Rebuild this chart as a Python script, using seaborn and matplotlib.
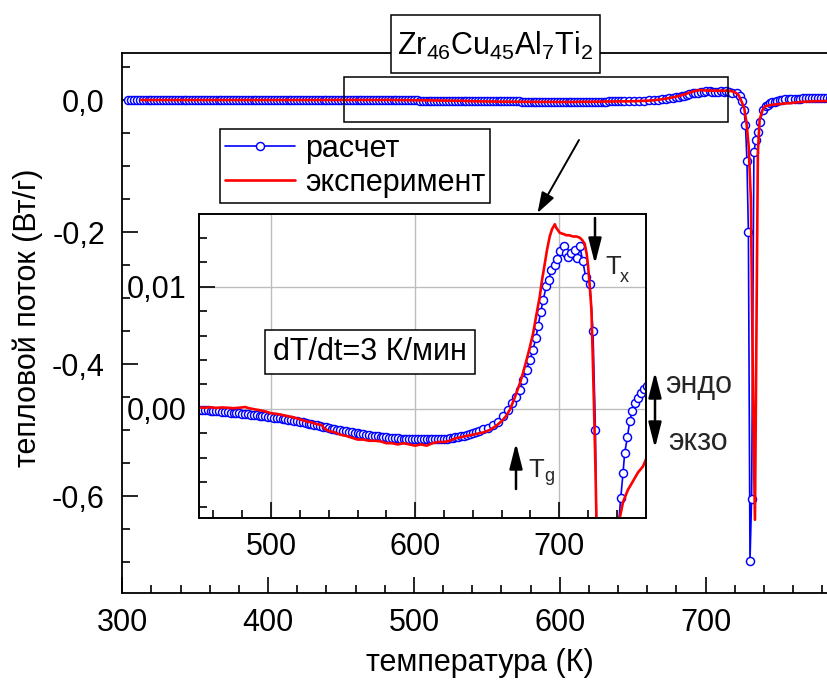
import numpy as np
import matplotlib
matplotlib.use("Agg")
import matplotlib.pyplot as plt
import matplotlib.patches as mpatches
import seaborn as sns
from matplotlib.ticker import FixedLocator, MultipleLocator

# ---------------------------------------------------------------- data
# calculated DSC curve (расчет): temperature, K and heat flow, W/g
calc_T_low = np.arange(304, 646, 2)
calc_flow_low = [
    0.0, 0.0, 0.0, 0.0, 0.0, 0.0, 0.0, 0.0, 0.0, 0.0,
    0.0, 0.0, 0.0, 0.0, 0.0, 0.0, 0.0, 0.0, 0.0, 0.0,
    0.0, 0.0, 0.0, 0.0, 0.0, 0.0, 0.0, 0.0, 0.0, 0.0,
    0.0, 0.0, 0.0, 0.0, 0.0, 0.0, 0.0, 0.0, 0.0, 0.0,
    0.0, 0.0, 0.0, 0.0, 0.0, 0.0, 0.0, 0.0, 0.0, 0.0,
    0.0, 0.0, 0.0, 0.0, 0.0, 0.0, 0.0, 0.0, 0.0, 0.0,
    0.0, 0.0, 0.0, 0.0, 0.0, 0.0, 0.0, 0.0, 0.0, 0.0,
    0.0, 0.0, 0.0,
    -0.0001, -0.0001, -0.0001, -0.00012, -0.00014, -0.00016, -0.00018, -0.0002, -0.00022, -0.00024,
    -0.00027, -0.0003, -0.00032, -0.00035, -0.00037, -0.0004, -0.00042, -0.00045, -0.00047, -0.0005,
    -0.00052, -0.00055, -0.00057, -0.0006, -0.00062, -0.00065, -0.0007, -0.00073, -0.00077, -0.0008,
    -0.00085, -0.0009, -0.00093, -0.00097, -0.001, -0.00105, -0.0011, -0.00115, -0.0012, -0.00125,
    -0.0013, -0.00135, -0.0014, -0.00145, -0.0015, -0.00155, -0.0016, -0.00165, -0.0017, -0.00173,
    -0.00178, -0.00182, -0.00187, -0.00192, -0.00197, -0.002, -0.00204, -0.00208, -0.00212, -0.00216,
    -0.0022, -0.00222, -0.00225, -0.00228, -0.0023, -0.00232, -0.00234, -0.00236, -0.00238, -0.0024,
    -0.00242, -0.00244, -0.00245, -0.00246, -0.00247, -0.00248, -0.00248, -0.00248, -0.00248, -0.00248,
    -0.00248, -0.00248, -0.00248, -0.00247, -0.00246, -0.00244, -0.00242, -0.0024, -0.00236, -0.00232,
    -0.00228, -0.00224, -0.00218, -0.00212, -0.00206, -0.002, -0.00192, -0.00184,
]
calc_T_peak = [
    647.2, 650.6, 654.0, 657.6, 661.0, 664.5, 667.5, 670.3, 672.6, 674.9,
    677.3, 679.5, 681.8, 683.7, 685.3, 687.2, 688.8, 691.1, 692.7, 694.6,
    696.9, 698.7, 700.3, 703.1, 704.5, 706.1, 708.5, 710.7, 712.6, 714.2,
    716.3, 718.4, 721.2, 723.4, 725.1, 726.3, 727.3, 728.3, 729.3, 730.4,
    731.5, 733.1, 734.5, 735.7, 737.2, 739.5, 741.1, 742.7, 744.3, 745.4,
    747.3, 748.9, 750.8, 752.6, 754.6, 756.9, 758.8,
]
calc_flow_peak = [
    -0.00166, -0.00153, -0.00131, -0.00104, -0.00057, -0.00008, 0.00047, 0.0010, 0.00155, 0.00237,
    0.00319, 0.0040, 0.00482, 0.00578, 0.00679, 0.00796, 0.00891, 0.01006, 0.01055, 0.01137,
    0.01177, 0.01224, 0.01294, 0.01333, 0.01278, 0.01245, 0.01273, 0.0130, 0.01232, 0.01335,
    0.0121, 0.01077, 0.01022, 0.0064, -0.0017, -0.015, -0.038, -0.092, -0.20, -0.698,
    -0.605, -0.078, -0.060, -0.049, -0.033, -0.015, -0.0095, -0.00725, -0.0052, -0.0036,
    -0.0023, -0.0010, -0.00014, 0.00046, 0.00087, 0.00128, 0.0016,
]
calc_T_high = np.arange(761, 801, 2)
calc_flow_high = [
    0.0019, 0.0021, 0.0023, 0.0025, 0.0026, 0.0027, 0.0028, 0.0029, 0.003, 0.003,
    0.003, 0.003, 0.003, 0.003, 0.003, 0.003, 0.003, 0.003, 0.003, 0.003,
]

# measured DSC curve (эксперимент)
exp_T = [
    313, 330, 350, 370, 390, 410, 430, 446,
    450, 454, 458, 462, 466, 470, 474, 478, 482, 484, 488, 492, 496,
    500, 504, 508, 512, 516, 520, 524, 528, 532, 535, 537, 540, 544, 548,
    552, 556, 560, 564, 568, 572, 576, 580, 584, 588, 592, 596, 600, 604,
    608, 612, 616, 620, 624, 628, 632, 636, 640, 644, 648, 652, 656, 660,
    663, 666, 669, 672.7, 675, 677.3, 679.5, 681.9, 684, 686.5, 688, 690,
    691.5, 693.4, 695, 696.9, 698, 700.4, 703, 705, 707, 709.6, 712, 714.3,
    716, 717.7, 719, 720, 721.2, 722.3, 723.2, 724, 725.1, 725.8, 726.5,
    728, 729.5, 731, 732.5, 733.8, 735, 735.8, 737, 739, 740.6, 742.2,
    744.3, 747.7, 751.2, 754.6, 758.1, 762, 766, 770, 775, 780, 790, 800,
]
exp_flow = [
    0.0, 0.0, 0.0, 0.0, 0.0, 0.0, 0.0, 0.0001,
    0.00012, 0.0001, 0.00014, 0.00008, 0.00012, 0.0001, 0.00006, 0.0001, 0.00016, 0.00008, -0.00002, -0.0001, -0.0002,
    -0.00035, -0.0004, -0.0005, -0.0006, -0.0007, -0.00085, -0.001, -0.0011, -0.00125, -0.0013, -0.0016, -0.0018, -0.0019, -0.0021,
    -0.0022, -0.00235, -0.0025, -0.0025, -0.0026, -0.0026, -0.00265, -0.0028, -0.0028, -0.0029, -0.0028, -0.0029, -0.003, -0.0029,
    -0.003, -0.0028, -0.0027, -0.0027, -0.0026, -0.0024, -0.0023, -0.0022, -0.0021, -0.002, -0.0019, -0.0017, -0.0014, -0.001,
    -0.0006, 0.0, 0.0009, 0.0021, 0.003, 0.004, 0.005, 0.0062, 0.0076, 0.0092, 0.0105, 0.0119,
    0.013, 0.0141, 0.0147, 0.0151, 0.0148, 0.0144, 0.0143, 0.0142, 0.0142, 0.0141, 0.0141, 0.0140,
    0.0138, 0.0135, 0.0127, 0.0117, 0.0100, 0.0082, 0.0045, 0.0008, -0.0047, -0.0089, -0.013,
    -0.035, -0.07, -0.15, -0.45, -0.636, -0.30, -0.08, -0.03, -0.015, -0.0098, -0.0088,
    -0.0076, -0.0066, -0.0059, -0.0052, -0.0047, -0.0036, -0.0028, -0.0022, -0.0018, -0.0016, -0.0015, -0.0015,
]

calc_T = np.concatenate([calc_T_low, calc_T_peak, calc_T_high])
calc_flow = np.concatenate([calc_flow_low, calc_flow_peak, calc_flow_high])

series_labels = ["расчет", "эксперимент"]
main_xticks = [300, 400, 500, 600, 700]
main_xticklabels = ["300", "400", "500", "600", "700"]
main_yticks = [0.0, -0.2, -0.4, -0.6]
main_yticklabels = ["0,0", "-0,2", "-0,4", "-0,6"]
inset_xticks = [500, 600, 700]
inset_xticklabels = ["500", "600", "700"]
inset_yticks = [0.0, 0.01]
inset_yticklabels = ["0,00", "0,01"]

# ---------------------------------------------------------------- style
sns.set_theme(style="white")
plt.rcParams["font.family"] = ["Liberation Sans", "DejaVu Sans"]
plt.rcParams["mathtext.fontset"] = "custom"
plt.rcParams["mathtext.rm"] = "Liberation Sans"
plt.rcParams["mathtext.it"] = "Liberation Sans:italic"
plt.rcParams["mathtext.default"] = "regular"

W, H = 827, 682
FS = 22


def fx(x):
    return x / W


def fy(y):
    return 1 - y / H


fig = plt.figure(figsize=(W / 100, H / 100), dpi=100)
fig.patch.set_facecolor("white")

calc_style = dict(color="blue", linewidth=1.2, marker="o", markersize=5.8,
                  markerfacecolor="white", markeredgecolor="blue",
                  markeredgewidth=1.05)
exp_style = dict(color="red", linewidth=1.9)


def draw_curves(axis):
    sns.lineplot(x=calc_T, y=calc_flow, ax=axis, sort=False, estimator=None,
                 label=series_labels[0], legend=False, **calc_style)
    sns.lineplot(x=exp_T, y=exp_flow, ax=axis, sort=False, estimator=None,
                 label=series_labels[1], legend=False, **exp_style)


# ---------------------------------------------------------------- main axes
ax = fig.add_axes([fx(122.3), fy(592.7), (851.5 - 122.3) / W, (592.7 - 53.3) / H])
ax.set_facecolor("white")
draw_curves(ax)
ax.set_xlim(300, 800)
ax.set_ylim(-0.7465, 0.0708)

for side, sp in ax.spines.items():
    sp.set_color("black")
    sp.set_linewidth(1.3)
ax.spines["right"].set_visible(False)

ax.xaxis.set_major_locator(FixedLocator(main_xticks))
ax.set_xticklabels(main_xticklabels)
ax.xaxis.set_minor_locator(MultipleLocator(20))
ax.yaxis.set_major_locator(FixedLocator(main_yticks))
ax.set_yticklabels(main_yticklabels)
ax.yaxis.set_minor_locator(MultipleLocator(0.05))
ax.tick_params(which="both", direction="in", top=False, right=False,
               left=True, bottom=True, width=1.2, color="black",
               labelcolor="black", labelsize=FS)
ax.tick_params(which="major", length=11.5)
ax.tick_params(which="minor", length=5.8)
ax.tick_params(axis="x", which="major", pad=11)
ax.tick_params(axis="y", which="major", pad=12.5)

ax.set_xlabel("температура (К)", fontsize=FS, color="black")
ax.set_ylabel("тепловой поток (Вт/г)", fontsize=FS, color="black")
ax.xaxis.set_label_coords(fx(480), fy(663), transform=fig.transFigure)
ax.yaxis.set_label_coords(fx(28), fy(318), transform=fig.transFigure)
ax.xaxis.label.set_verticalalignment("center")
ax.yaxis.label.set_verticalalignment("center")

# frame marking the zoomed region
ax.add_patch(mpatches.Rectangle((452.2, -0.0329), 715.5 - 452.2, 0.0673,
                                fill=False, edgecolor="black", linewidth=1.1,
                                zorder=5))

leg = ax.legend(handles=ax.lines[:2], labels=series_labels, loc="upper left",
                bbox_to_anchor=(fx(220), fy(129)), bbox_transform=fig.transFigure,
                fontsize=FS, frameon=True, fancybox=False, framealpha=1,
                edgecolor="black", borderpad=0.15, labelspacing=0.15,
                handlelength=2.3, handletextpad=0.35, borderaxespad=0)
leg.get_frame().set_linewidth(1.1)
for t in leg.get_texts():
    t.set_color("black")

# ---------------------------------------------------------------- inset
axi = fig.add_axes([fx(199), fy(518.3), (645.7 - 199) / W, (518.3 - 214) / H])
axi.set_facecolor("white")
draw_curves(axi)
axi.set_xlim(450, 760)
axi.set_ylim(-0.00894, 0.01594)
for sp in axi.spines.values():
    sp.set_color("black")
    sp.set_linewidth(1.4)
    sp.set_visible(True)
axi.xaxis.set_major_locator(FixedLocator(inset_xticks))
axi.set_xticklabels(inset_xticklabels)
axi.xaxis.set_minor_locator(MultipleLocator(20))
axi.yaxis.set_major_locator(FixedLocator(inset_yticks))
axi.set_yticklabels(inset_yticklabels)
axi.yaxis.set_minor_locator(MultipleLocator(0.002))
axi.tick_params(which="both", direction="in", top=False, right=False,
                left=True, bottom=True, width=1.2, color="black",
                labelcolor="black", labelsize=FS)
axi.tick_params(which="major", length=11.5)
axi.tick_params(which="minor", length=5.5)
axi.tick_params(axis="x", which="major", pad=10)
axi.tick_params(axis="y", which="major", pad=9)
axi.grid(True, which="major", color="#bdbdbd", linewidth=1.0)
axi.set_axisbelow(True)

# heating-rate note inside the inset
fig.add_artist(mpatches.Rectangle((fx(265), fy(374)), (475 - 265) / W,
                                  (374 - 330) / H, transform=fig.transFigure,
                                  facecolor="white", edgecolor="black",
                                  linewidth=1.1, zorder=10))
fig.text(fx(370), fy(352), "dT/dt=3 К/мин", fontsize=FS, ha="center",
         va="center", color="black", zorder=11)

# ---------------------------------------------------------------- annotations
fig.add_artist(mpatches.Rectangle((fx(391), fy(72.7)), (600 - 391) / W,
                                  (72.7 - 15) / H, transform=fig.transFigure,
                                  facecolor="white", edgecolor="black",
                                  linewidth=1.1, zorder=10))
fig.text(fx(495.5), fy(46), r"Zr$_{46}$Cu$_{45}$Al$_{7}$Ti$_{2}$",
         fontsize=FS, ha="center", va="center", color="black", zorder=11)


def arrow(p0, p1, style, lw=1.6, scale=14):
    fig.add_artist(mpatches.FancyArrowPatch(
        (fx(p0[0]), fy(p0[1])), (fx(p1[0]), fy(p1[1])),
        transform=fig.transFigure, arrowstyle=style, mutation_scale=scale,
        color="black", linewidth=lw, shrinkA=0, shrinkB=0, zorder=12))


arrow((579, 140), (537.5, 213), "-|>,head_length=0.9,head_width=0.3", lw=1.4)
arrow((595, 218), (595, 264), "-|>,head_length=1.1,head_width=0.28", lw=1.8)
arrow((516, 489), (516, 443), "-|>,head_length=1.1,head_width=0.28", lw=1.8)
arrow((655, 372), (655, 448), "<|-|>,head_length=1.1,head_width=0.28", lw=1.8)

fig.text(fx(605), fy(273.5), "T", fontsize=18.5, ha="left", va="baseline")
fig.text(fx(620), fy(282), "x", fontsize=13, ha="left", va="baseline")
fig.text(fx(528.5), fy(477), "T", fontsize=18.5, ha="left", va="baseline")
fig.text(fx(544), fy(481), "g", fontsize=13, ha="left", va="baseline")
fig.text(fx(665), fy(393), "эндо", fontsize=FS, ha="left", va="baseline")
fig.text(fx(668), fy(450), "экзо", fontsize=FS, ha="left", va="baseline")

fig.savefig("out.png", dpi=100)
